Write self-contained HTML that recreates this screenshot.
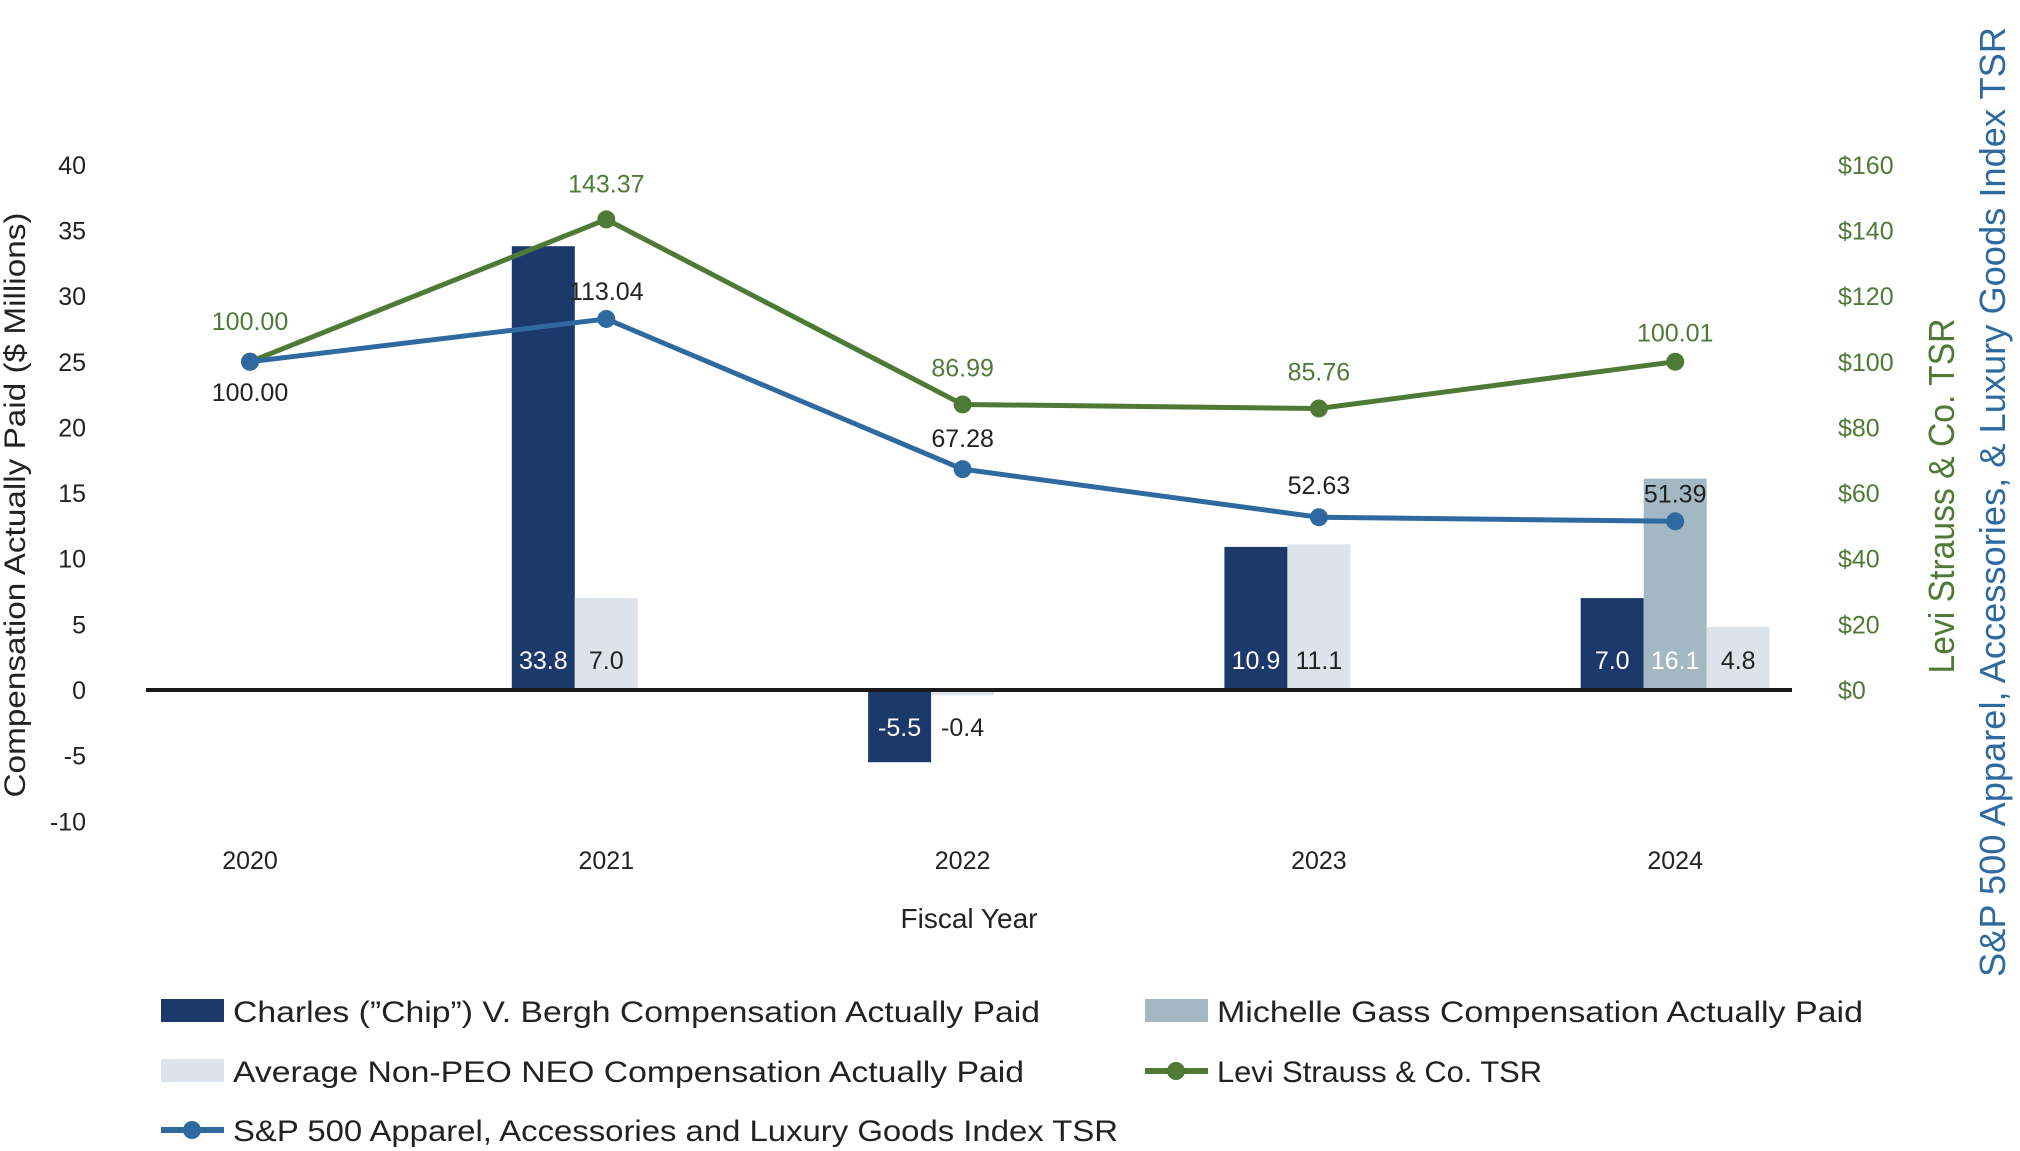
<!DOCTYPE html>
<html><head><meta charset="utf-8"><style>
html,body{margin:0;padding:0;background:#fff;}
svg{display:block;font-family:"Liberation Sans",sans-serif;}
</style></head><body>
<svg id="chart" width="2020" height="1151" viewBox="0 0 2020 1151"></svg>
<script>
const categories = ["2020","2021","2022","2023","2024"];
const berghValues = [null, 33.8, -5.5, 10.9, 7.0];
const gassValues = [null, null, null, null, 16.1];
const avgValues = [null, 7.0, -0.4, 11.1, 4.8];
const leviTsr = [100.00, 143.37, 86.99, 85.76, 100.01];
const spTsr = [100.00, 113.04, 67.28, 52.63, 51.39];
const leftTicks = [40,35,30,25,20,15,10,5,0,-5,-10];
const rightTicks = [160,140,120,100,80,60,40,20,0];

const NS = "http://www.w3.org/2000/svg";
const svg = document.getElementById("chart");
function mk(tag, attrs, parent){const e=document.createElementNS(NS,tag);for(const k in attrs)e.setAttribute(k,attrs[k]);(parent||svg).appendChild(e);return e;}
const Y0 = 690, PX_PER_UNIT = 13.13;
function yL(v){return Y0 - v*PX_PER_UNIT;}
function yR(v){return Y0 - v/4*PX_PER_UNIT;}
function xC(i){return 250 + i*356.3;}
const BW = 63;

// left ticks
leftTicks.forEach(t=>{
  const e=mk("text",{x:86,y:yL(t)+9,"text-anchor":"end","font-size":25,fill:"#222"});
  e.textContent=t;
  
  
});
rightTicks.forEach(t=>{
  const e=mk("text",{x:1838,y:yR(t)+9,"text-anchor":"start","font-size":25,fill:"#4e7a35"});
  e.textContent="$"+t;
  
  
});
// category labels
categories.forEach((c,i)=>{
  const e=mk("text",{x:xC(i),y:869,"text-anchor":"middle","font-size":25,fill:"#222"});
  e.textContent=c;
  
  
});

// bars
const series=[{v:berghValues,c:"#1b3a6b",tc:"#fff",n:"bergh-bar"},{v:gassValues,c:"#a3b8c2",tc:"#fff",n:"gass-bar"},{v:avgValues,c:"#dde3ea",tc:"#222",n:"avg-bar"}];
categories.forEach((c,i)=>{
  let x = xC(i) - 1.5*BW;
  series.forEach(s=>{
    const v=s.v[i]; if(v===null) return;
    const top=Math.min(yL(v),Y0), h=Math.abs(yL(v)-Y0);
    const r=mk("rect",{x:x,y:top,width:BW,height:h,fill:s.c});
    
    
    const ly = v>=0 ? Y0-30+9 : Y0+37+9;
    const inside = v>=0 ? h>40 : h>60;
    const t=mk("text",{x:x+BW/2,y:ly,"text-anchor":"middle","font-size":25,fill:inside?s.tc:"#222"});
    t.textContent=(v<0?"-":"")+Math.abs(v).toFixed(1);
    
    
    x+=BW;
  });
});

// zero line
const zl=mk("line",{x1:146,x2:1792,y1:Y0,y2:Y0,stroke:"#1a1a1a","stroke-width":4});



function drawLine(vals,color,name,labelColor,offsets){
  const pts=vals.map((v,i)=>[xC(i),yR(v)]);
  const p=mk("polyline",{points:pts.map(p=>p.join(",")).join(" "),fill:"none",stroke:color,"stroke-width":5,"stroke-linejoin":"round"});
  
  
  pts.forEach((pt,i)=>{
    const c=mk("circle",{cx:pt[0],cy:pt[1],r:9,fill:color});
    
    
    const t=mk("text",{x:pt[0],y:pt[1]+offsets[i]+9,"text-anchor":"middle","font-size":25,fill:labelColor});
    t.textContent=vals[i].toFixed(2);
    
    
  });
}
drawLine(leviTsr,"#4e7a35","levi-tsr","#4e7a35",[-41,-36,-37,-37,-29]);
drawLine(spTsr,"#2e6aa0","sp500-tsr","#222",[30,-28,-31,-32,-28]);

// axis titles
let e=mk("text",{x:0,y:0,transform:"translate(25,505) rotate(-90)","text-anchor":"middle","font-size":30,fill:"#222",textLength:585,lengthAdjust:"spacingAndGlyphs"});
e.textContent="Compensation Actually Paid ($ Millions)";


e=mk("text",{x:0,y:0,transform:"translate(1954,496) rotate(-90)","text-anchor":"middle","font-size":36,fill:"#4e7a35",textLength:355,lengthAdjust:"spacingAndGlyphs"});
e.textContent="Levi Strauss & Co. TSR";


e=mk("text",{x:0,y:0,transform:"translate(2005,502) rotate(-90)","text-anchor":"middle","font-size":36,fill:"#2e6aa0",textLength:950,lengthAdjust:"spacingAndGlyphs"});
e.textContent="S&P 500 Apparel, Accessories, & Luxury Goods Index TSR";


e=mk("text",{x:969,y:928,"text-anchor":"middle","font-size":28,fill:"#222"});
e.textContent="Fiscal Year";



// legend
const legend=[
 {t:"Charles (\u201dChip\u201d) V. Bergh Compensation Actually Paid",x:161,y:1011,w:807,c:"#1b3a6b",k:"box"},
 {t:"Michelle Gass Compensation Actually Paid",x:1145,y:1011,w:646,c:"#a3b8c2",k:"box"},
 {t:"Average Non-PEO NEO Compensation Actually Paid",x:161,y:1071,w:791,c:"#dde3ea",k:"box"},
 {t:"Levi Strauss & Co. TSR",x:1145,y:1071,w:325,c:"#4e7a35",k:"line"},
 {t:"S&P 500 Apparel, Accessories and Luxury Goods Index TSR",x:161,y:1130,w:885,c:"#2e6aa0",k:"line"}
];
legend.forEach(l=>{
  const g=mk("g",{});
  
  
  if(l.k==="box"){mk("rect",{x:l.x,y:l.y-12,width:63,height:23,fill:l.c},g);}
  else{mk("line",{x1:l.x,x2:l.x+63,y1:l.y,y2:l.y,stroke:l.c,"stroke-width":6},g);mk("circle",{cx:l.x+31,cy:l.y,r:9,fill:l.c},g);}
  const t=mk("text",{x:l.x+72,y:l.y+11,"font-size":30,fill:"#222",textLength:l.w,lengthAdjust:"spacingAndGlyphs"},g);
  t.textContent=l.t;
});
</script>
</body></html>
